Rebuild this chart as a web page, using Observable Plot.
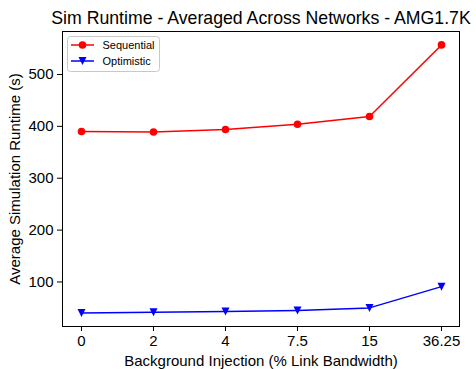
<!DOCTYPE html>
<html>
<head>
<meta charset="utf-8">
<script src="https://cdn.jsdelivr.net/npm/d3@7"></script>
<script src="https://cdn.jsdelivr.net/npm/@observablehq/plot@0.6"></script>
<style>
  html, body { margin: 0; padding: 0; background: #fff; }
  #chart svg { display: block; }
</style>
</head>
<body>
<div id="chart"></div>
<script>
// Background injection levels (x categories) and averaged runtimes in seconds
const injection = ["0", "2", "4", "7.5", "15", "36.25"];
const sequential = [390, 389, 394, 404, 419, 557];
const optimistic = [40, 41.5, 43, 45, 50, 91];
const yTicks = [100, 200, 300, 400, 500];

const seqRows = injection.map((x, i) => ({x, y: sequential[i]}));
const optRows = injection.map((x, i) => ({x, y: optimistic[i]}));

// downward-pointing triangle marker
const triangleDown = {
  draw(ctx, size) {
    const r = Math.sqrt(size / Math.PI);
    ctx.moveTo(-r, -r);
    ctx.lineTo(r, -r);
    ctx.lineTo(0, r);
    ctx.closePath();
  }
};

const font = "'Liberation Sans', Arial, sans-serif";

const allY = sequential.concat(optimistic);
const lo = d3.min(allY), hi = d3.max(allY), pad = (hi - lo) * 0.05;

const chart = Plot.plot({
  width: 476,
  height: 369,
  marginLeft: 62,
  marginRight: 17,
  marginTop: 31,
  marginBottom: 43,
  style: {fontFamily: font, fontSize: "15px", color: "#000", background: "#fff"},
  x: {type: "point", domain: injection, padding: 0.25},
  y: {domain: [lo - pad, hi + pad]},
  marks: [
    Plot.axisX({tickSize: 5, tickPadding: 4, fontSize: 15,
      label: "Background Injection (% Link Bandwidth)", labelAnchor: "center", labelOffset: 39, labelArrow: "none"}),
    Plot.axisY(yTicks, {tickSize: 5, tickPadding: 4, fontSize: 15,
      label: "Average Simulation Runtime (s)", labelAnchor: "center", labelOffset: 53, labelArrow: "none"}),
    Plot.line(seqRows, {x: "x", y: "y", stroke: "#ff0000", strokeWidth: 1.5}),
    Plot.dot(seqRows, {x: "x", y: "y", r: 3.8, fill: "#ff0000", stroke: "none"}),
    Plot.line(optRows, {x: "x", y: "y", stroke: "#0000ff", strokeWidth: 1.5}),
    Plot.dot(optRows, {x: "x", y: "y", r: 4, symbol: triangleDown, fill: "#0000ff", stroke: "none"}),
    Plot.frame({stroke: "#000", strokeWidth: 1}),
    Plot.text(["Sim Runtime - Averaged Across Networks - AMG1.7K"],
      {frameAnchor: "top", dy: -8, lineAnchor: "bottom", fontSize: 17.7, fill: "#000"})
  ]
});

// legend in the upper-left corner of the plot area
const svg = d3.select(chart);
const legend = svg.append("g")
  .attr("font-family", font).attr("font-size", 11).attr("text-anchor", "start");
legend.append("rect")
  .attr("x", 67.5).attr("y", 36.5).attr("width", 92).attr("height", 35)
  .attr("rx", 3).attr("fill", "#fff").attr("fill-opacity", 0.8)
  .attr("stroke", "#c8c8c8").attr("stroke-width", 1);
const entries = [
  {name: "Sequential", color: "#ff0000", shape: "circle"},
  {name: "Optimistic", color: "#0000ff", shape: "tri"}
];
entries.forEach((e, i) => {
  const cy = 45 + i * 16;
  const g = legend.append("g");
  g.append("line").attr("x1", 71).attr("x2", 94).attr("y1", cy).attr("y2", cy)
    .attr("stroke", e.color).attr("stroke-width", 1.5);
  if (e.shape === "circle") {
    g.append("circle").attr("cx", 82.5).attr("cy", cy).attr("r", 3.8).attr("fill", e.color);
  } else {
    g.append("path").attr("d", `M${82.5 - 4},${cy - 4}L${82.5 + 4},${cy - 4}L82.5,${cy + 4}Z`).attr("fill", e.color);
  }
  g.append("text").attr("x", 102.5).attr("y", cy + 4).attr("fill", "#000")
    .attr("text-anchor", "start").text(e.name);
});

document.getElementById("chart").appendChild(chart);
</script>
</body>
</html>
